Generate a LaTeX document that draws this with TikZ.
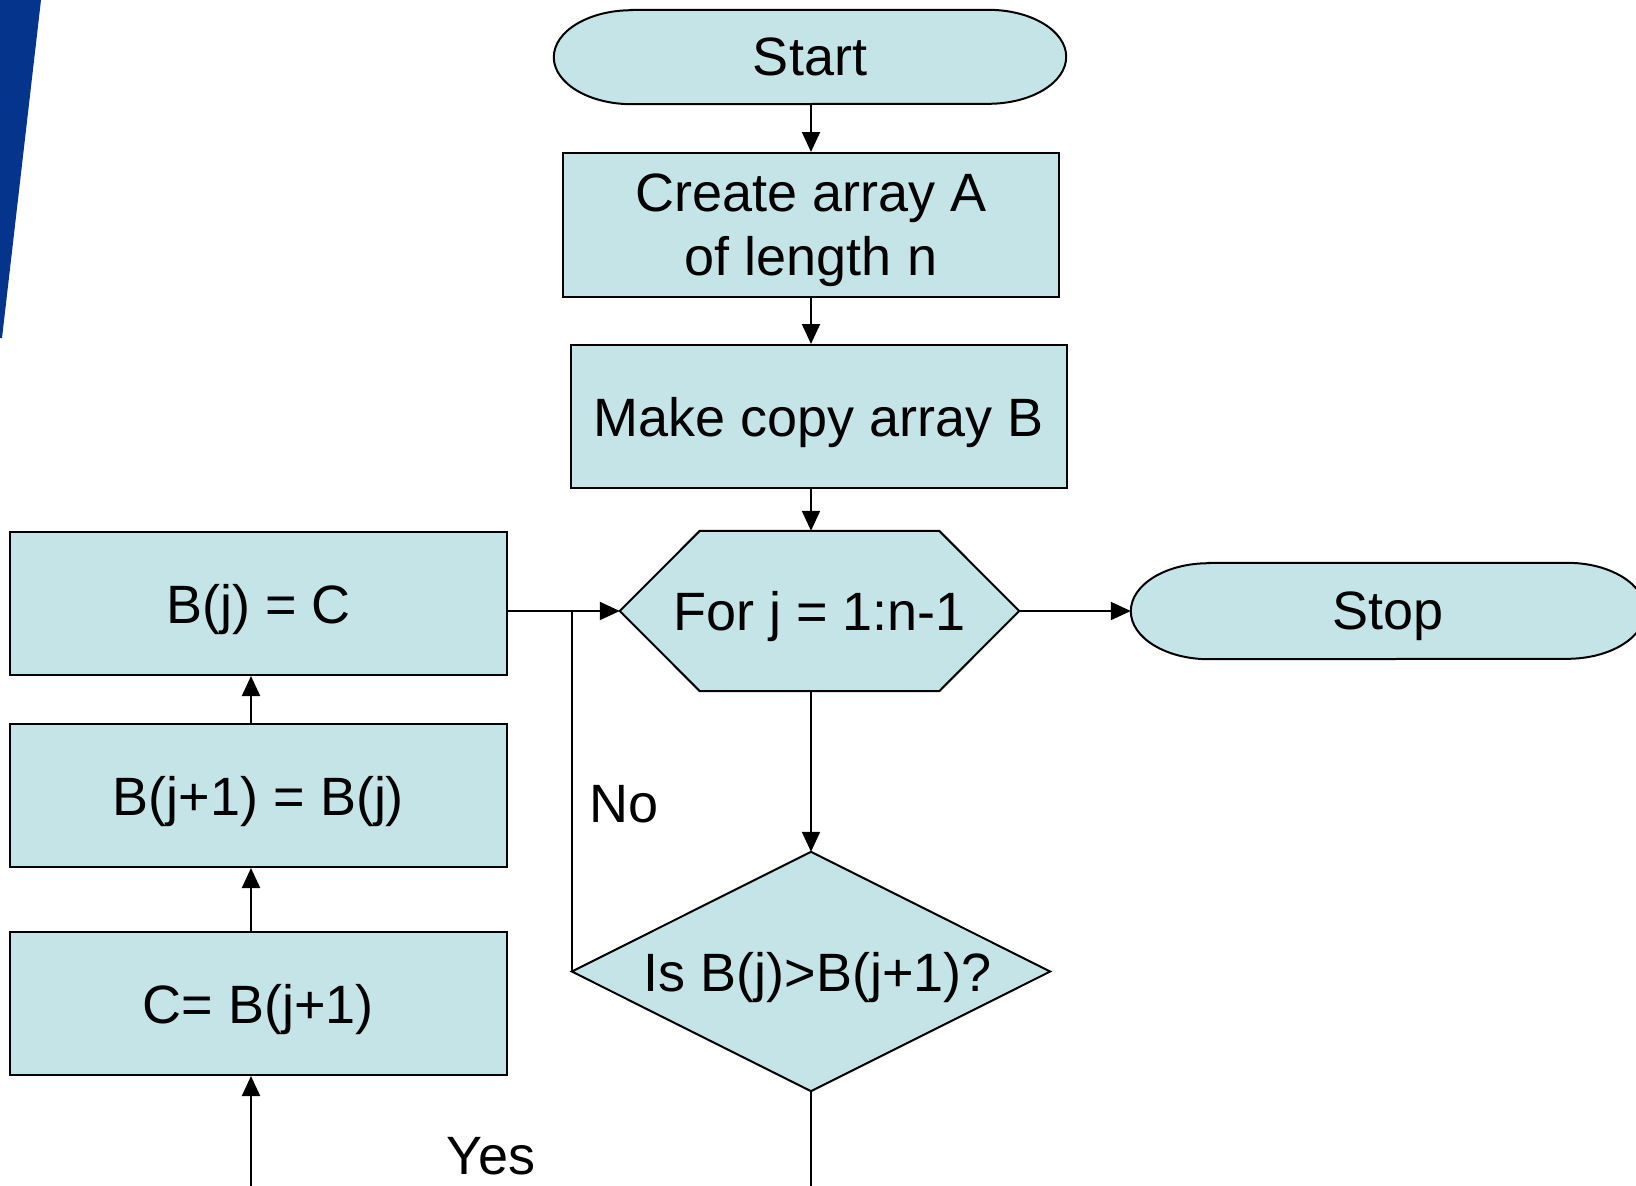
\documentclass[tikz,border=0pt]{standalone}
\usepackage{fontspec}
\setmainfont{Liberation Sans}
\usetikzlibrary{arrows.meta,calc,backgrounds}
\definecolor{boxfill}{RGB}{197,228,231}
\definecolor{slideblue}{RGB}{4,52,140}
\tikzset{
  lbl/.style={font=\fontsize{54}{64}\selectfont, inner sep=0pt, align=center, text depth=0pt},
  procbox/.style={lbl, draw=black, fill=boxfill, line width=2pt, rectangle},
  anchorbox/.style={lbl, rectangle, draw=none, fill=none},
  outline/.style={draw=black, fill=boxfill, line width=2pt},
  conn/.style={line width=2pt, draw=black},
  arr/.style={conn, -{Triangle[length=20pt,width=18pt]}},
}
\begin{document}
\begin{tikzpicture}[x=1pt, y=-1pt]
\useasboundingbox (0,0) rectangle (1636,1186);

% slide decoration in the top-left corner
\fill[slideblue] (0,0) -- (41,0) -- (2,338) -- (0,338) -- cycle;

% process steps
\node[anchorbox, minimum width=512pt, minimum height=94pt] (start) at (810,57) {Start};
\node[procbox, minimum width=496pt, minimum height=144pt] (create) at (811,225) {Create array A\\of length n};
\node[procbox, minimum width=496pt, minimum height=143pt] (make) at (819,416.5) {Make copy array B};
\node[anchorbox, minimum width=399pt, minimum height=160pt] (loop) at (819.5,611) {For j = 1:n-1};
\node[anchorbox, minimum width=514pt, minimum height=96pt] (stop) at (1388,611) {Stop};
\node[procbox, minimum width=497pt, minimum height=143pt] (setb) at (258.5,603.5) {B(j) = C};
\node[procbox, minimum width=497pt, minimum height=143pt] (shift) at (258.5,795.5) {B(j+1) = B(j)};
\node[procbox, minimum width=497pt, minimum height=143pt] (save) at (258.5,1003.5) {C= B(j+1)};
\node[anchorbox, minimum width=478pt, minimum height=239pt] (test) at (811,971.5) {\hspace*{14pt}Is B(j)>B(j+1)?};

\node[lbl] (nolbl) at (624,804) {No};
\node[lbl] (yeslbl) at (491,1156) {Yes};

% outlines of the terminals, the loop hexagon and the decision
\begin{scope}[on background layer]
  \fill[white] (0,0) rectangle (1636,1186);
  \path[outline] ($(start.north west)+(78pt,0)$) -- ($(start.north east)+(-78pt,0)$)
    arc[start angle=90, end angle=-90, x radius=78pt, y radius=47pt]
    -- ($(start.south west)+(78pt,0)$)
    arc[start angle=270, end angle=90, x radius=78pt, y radius=47pt] -- cycle;
  \path[outline] ($(stop.north west)+(78pt,0)$) -- ($(stop.north east)+(-78pt,0)$)
    arc[start angle=90, end angle=-90, x radius=78pt, y radius=48pt]
    -- ($(stop.south west)+(78pt,0)$)
    arc[start angle=270, end angle=90, x radius=78pt, y radius=48pt] -- cycle;
  \path[outline] (loop.west) -- ($(loop.north west)+(80pt,0)$) -- ($(loop.north east)+(-80pt,0)$)
    -- (loop.east) -- ($(loop.south east)+(-80pt,0)$) -- ($(loop.south west)+(80pt,0)$) -- cycle;
  \path[outline] (test.west) -- (test.north) -- (test.east) -- (test.south) -- cycle;
\end{scope}

% free ends of the connectors at the lower edge
\coordinate (yesend) at (251,1190);
\coordinate (contend) at (811,1190);

% connectors
\draw[arr] (start.south -| create.north) -- (create.north);
\draw[arr] (create.south) -- (make.north -| create.south);
\draw[arr] (make.south -| create.south) -- (loop.north -| create.south);
\draw[arr] (loop.south -| test.north) -- (test.north);
\draw[arr] (loop.east) -- (stop.west);
\draw[arr] (setb.east |- loop.west) -- (loop.west);
\draw[conn] (test.west) -- (test.west |- loop.west);
\draw[conn] (test.south) -- (contend);
\draw[arr] (yesend) -- (save.south -| yesend);
\draw[arr] (save.north -| yesend) -- (shift.south -| yesend);
\draw[arr] (shift.north -| yesend) -- (setb.south -| yesend);
\end{tikzpicture}
\end{document}
